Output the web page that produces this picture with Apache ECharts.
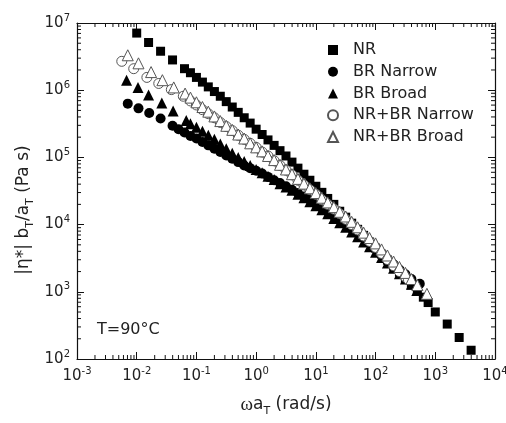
<!DOCTYPE html>
<html><head><meta charset="utf-8">
<script src="https://cdn.jsdelivr.net/npm/echarts@6/dist/echarts.min.js"></script>
<style>html,body{margin:0;padding:0;background:#fff}#c{width:506px;height:423px}</style>
</head><body><div id="c"></div>
<script>
// ---- data: [omega*aT (rad/s), |eta*| bT/aT (Pa s)] ----
const seriesNames = ['NR', 'BR Narrow', 'BR Broad', 'NR+BR Narrow', 'NR+BR Broad'];

const nr = [
 [0.01,7.08e6],[0.0158,5.13e6],[0.0251,3.80e6],[0.0398,2.82e6],[0.0631,2.09e6],[0.0794,1.82e6],
 [0.1,1.55e6],[0.126,1.32e6],[0.158,1.12e6],[0.2,9.55e5],[0.251,8.13e5],[0.316,6.76e5],[0.398,5.62e5],
 [0.501,4.68e5],[0.631,3.89e5],[0.794,3.24e5],[1,2.63e5],[1.26,2.19e5],[1.58,1.82e5],[2.0,1.51e5],
 [2.51,1.26e5],[3.16,1.05e5],[3.98,8.51e4],[5.01,6.92e4],[6.31,5.62e4],[7.94,4.57e4],[10,3.72e4],
 [12.6,3.02e4],[15.8,2.45e4],[20.0,2.00e4],[25.1,1.58e4],[31.6,1.29e4],[39.8,1.05e4],[50.1,8.51e3],
 [63.1,6.92e3],[79.4,5.50e3],[100,4.47e3],[126,3.63e3],[158,2.95e3],[200,2.40e3],[251,1.95e3],
 [316,1.58e3],[398,1.26e3],[501,1.02e3],[631,832],[759,692],[1000,501],[1585,331],[2512,209],[3981,135]
];
const brNarrow = [
 [0.00708,6.31e5],[0.0107,5.37e5],[0.0162,4.57e5],[0.0251,3.80e5],[0.0398,2.95e5],[0.0501,2.63e5],
 [0.0631,2.34e5],[0.0794,2.09e5],[0.1,1.91e5],[0.126,1.70e5],[0.158,1.51e5],[0.2,1.35e5],[0.251,1.20e5],
 [0.316,1.07e5],[0.398,9.55e4],[0.501,8.51e4],[0.631,7.59e4],[0.794,6.92e4],[1,6.31e4],[1.26,5.75e4],
 [1.58,5.13e4],[2.0,4.57e4],[2.51,4.17e4],[3.16,3.72e4],[3.98,3.31e4],[5.01,2.95e4],[6.31,2.63e4],
 [7.94,2.34e4],[10,2.04e4],[12.6,1.78e4],[15.8,1.55e4],[20.0,1.35e4],[25.1,1.17e4],[31.6,1.02e4],
 [39.8,8.71e3],[50.1,7.41e3],[63.1,6.31e3],[79.4,5.37e3],[100,4.47e3],[126,3.72e3],[158,3.09e3],
 [200,2.57e3],[251,2.14e3],[316,1.82e3],[398,1.55e3],[550,1.32e3]
];
const brBroad = [
 [0.00676,1.41e6],[0.0105,1.10e6],[0.0158,8.51e5],[0.0263,6.46e5],[0.0407,4.90e5],[0.0676,3.55e5],
 [0.0794,3.16e5],[0.1,2.82e5],[0.126,2.45e5],[0.158,2.14e5],[0.2,1.86e5],[0.251,1.58e5],[0.316,1.35e5],
 [0.398,1.15e5],[0.501,1.00e5],[0.631,8.71e4],[0.794,7.59e4],[1,6.61e4],[1.26,5.89e4],[1.58,5.25e4],
 [2.0,4.68e4],[2.51,4.07e4],[3.16,3.63e4],[3.98,3.24e4],[5.01,2.82e4],[6.31,2.51e4],[7.94,2.19e4],
 [10,1.91e4],[12.6,1.66e4],[15.8,1.45e4],[20.0,1.23e4],[25.1,1.07e4],[31.6,9.12e3],[39.8,7.76e3],
 [50.1,6.61e3],[63.1,5.50e3],[79.4,4.68e3],[100,3.89e3],[126,3.24e3],[158,2.69e3],[200,2.24e3],
 [251,1.86e3],[316,1.55e3],[398,1.29e3],[490,1.05e3]
];
const nrBrNarrow = [
 [0.00562,2.69e6],[0.00891,2.09e6],[0.0148,1.55e6],[0.0234,1.26e6],[0.038,1.02e6],[0.0603,8.13e5],
 [0.0794,6.92e5],[0.1,6.03e5],[0.126,5.13e5],[0.158,4.47e5],[0.2,3.89e5],[0.251,3.31e5],[0.316,2.88e5],
 [0.398,2.51e5],[0.501,2.14e5],[0.631,1.86e5],[0.794,1.62e5],[1,1.41e5],[1.26,1.20e5],[1.58,1.05e5],
 [2.0,8.91e4],[2.51,7.59e4],[3.16,6.46e4],[3.98,5.50e4],[5.01,4.57e4],[6.31,3.89e4],[7.94,3.31e4],
 [10,2.82e4],[12.6,2.34e4],[15.8,2.00e4],[20.0,1.70e4],[25.1,1.45e4],[31.6,1.20e4],[39.8,1.00e4],
 [50.1,8.32e3],[63.1,6.76e3],[79.4,5.62e3],[100,4.57e3],[126,3.72e3],[158,3.02e3],[200,2.45e3],
 [251,2.00e3],[316,1.66e3],[355,1.51e3]
];
const nrBrBroad = [
 [0.00708,3.31e6],[0.0107,2.51e6],[0.0174,1.86e6],[0.0269,1.41e6],[0.0417,1.10e6],[0.0646,8.91e5],
 [0.0794,7.76e5],[0.1,6.61e5],[0.126,5.62e5],[0.158,4.79e5],[0.2,4.07e5],[0.251,3.47e5],[0.316,2.95e5],
 [0.398,2.57e5],[0.501,2.19e5],[0.631,1.91e5],[0.794,1.62e5],[1,1.41e5],[1.26,1.23e5],[1.58,1.05e5],
 [2.0,9.12e4],[2.51,7.76e4],[3.16,6.61e4],[3.98,5.62e4],[5.01,4.79e4],[6.31,4.07e4],[7.94,3.47e4],
 [10,2.95e4],[12.6,2.51e4],[15.8,2.14e4],[20.0,1.82e4],[25.1,1.55e4],[31.6,1.32e4],[39.8,1.10e4],
 [50.1,9.12e3],[63.1,7.59e3],[79.4,6.31e3],[100,5.25e3],[126,4.27e3],[158,3.47e3],[200,2.82e3],
 [251,2.34e3],[316,1.91e3],[398,1.55e3],[501,1.26e3],[724,933]
];

// ---- axes / tick labels ----
const xMin = 1e-3, xMax = 1e4;
const yMin = 1e2, yMax = 1e7;
const xTickExps = [-3, -2, -1, 0, 1, 2, 3, 4];
const yTickExps = [2, 3, 4, 5, 6, 7];
const minorMultipliers = [2, 3, 4, 5, 6, 7, 8, 9];
const minorX = [], minorY = [];
xTickExps.slice(0, -1).forEach(e => minorMultipliers.forEach(m => minorX.push(m * Math.pow(10, e))));
yTickExps.slice(0, -1).forEach(e => minorMultipliers.forEach(m => minorY.push(m * Math.pow(10, e))));

const FONT = 'DejaVu Sans';
const INK = '#111';
const supRich = {
  b: { fontSize: 15, fontFamily: FONT, color: '#222', lineHeight: 20 },
  s: { fontSize: 10, fontFamily: FONT, color: '#222', lineHeight: 11, verticalAlign: 'top' }
};
function powLabel(v) {
  const e = Math.round(Math.log10(v));
  return '{b|10}{s|' + e + '}';
}
const lineStyle = { color: INK, width: 1.2 };
function axisCommon(pos, showLabel, isX) {
  return {
    type: 'log', logBase: 10, position: pos,
    min: isX ? xMin : yMin, max: isX ? xMax : yMax, interval: 1,
    axisLine: { show: true, onZero: false, lineStyle: lineStyle },
    axisTick: { show: true, inside: true, length: 7, lineStyle: { color: INK, width: 1 } },
    minorTick: { show: false },
    splitLine: { show: false },
    axisLabel: showLabel ? { show: true, margin: 7, formatter: powLabel, rich: supRich } : { show: false }
  };
}

const MINOR_LEN = 4;
function minorXItem(params, api) {
  const v = api.value(0);
  const b = api.coord([v, yMin]);
  const t = api.coord([v, yMax]);
  return { type: 'group', children: [
    { type: 'line', shape: { x1: b[0], y1: b[1], x2: b[0], y2: b[1] - MINOR_LEN }, style: { stroke: INK, lineWidth: 1 } },
    { type: 'line', shape: { x1: t[0], y1: t[1], x2: t[0], y2: t[1] + MINOR_LEN }, style: { stroke: INK, lineWidth: 1 } }
  ]};
}
function minorYItem(params, api) {
  const v = api.value(1);
  const l = api.coord([xMin, v]);
  const r = api.coord([xMax, v]);
  return { type: 'group', children: [
    { type: 'line', shape: { x1: l[0], y1: l[1], x2: l[0] + MINOR_LEN, y2: l[1] }, style: { stroke: INK, lineWidth: 1 } },
    { type: 'line', shape: { x1: r[0], y1: r[1], x2: r[0] - MINOR_LEN, y2: r[1] }, style: { stroke: INK, lineWidth: 1 } }
  ]};
}

const filled = { color: '#000', opacity: 1 };
const open = { color: '#fff', borderColor: '#555', borderWidth: 1, opacity: 1 };

const chart = echarts.init(document.getElementById('c'), null, { renderer: 'canvas' });
chart.setOption({
  animation: false,
  backgroundColor: '#fff',
  grid: { left: 77, right: 11, top: 23, bottom: 64, containLabel: false, outerBoundsMode: 'none' },
  xAxis: [
    Object.assign(axisCommon('bottom', true, true), {
      name: '{w|ω}{a|a}{sub|T}{a| (rad/s)}', nameLocation: 'middle', nameGap: 34,
      nameTextStyle: { rich: {
        w: { fontSize: 19, fontFamily: 'Liberation Serif', color: '#222', lineHeight: 24 },
        a: { fontSize: 17, fontFamily: FONT, color: '#222', lineHeight: 24 },
        sub: { fontSize: 11, fontFamily: FONT, color: '#222', lineHeight: 12, verticalAlign: 'bottom' }
      } }
    }),
    axisCommon('top', false, true)
  ],
  yAxis: [
    axisCommon('left', true, false),
    axisCommon('right', false, false)
  ],
  legend: {
    data: seriesNames,
    orient: 'vertical', left: 322, top: 35,
    itemWidth: 10, itemHeight: 10, itemGap: 1.75, symbolKeepAspect: true,
    textStyle: { fontSize: 16, fontFamily: FONT, color: '#222', lineHeight: 20, padding: [0, 0, 0, 10] }
  },
  graphic: [
    { type: 'text', x: 24, y: 210, rotation: Math.PI / 2,
      style: { text: '{a||η*| b}{s|T}{a|/a}{s|T}{a| (Pa s)}', align: 'center', verticalAlign: 'middle',
        rich: {
          a: { fontSize: 17, fontFamily: FONT, fill: '#222', color: '#222', lineHeight: 24 },
          s: { fontSize: 11, fontFamily: FONT, fill: '#222', color: '#222', lineHeight: 12, verticalAlign: 'bottom' }
        } } },
    { type: 'text', x: 97, y: 330,
      style: { text: 'T=90°C', fontSize: 16, fontFamily: FONT, fill: '#222', verticalAlign: 'middle' } }
  ],
  series: [
    { type: 'custom', name: 'minorX', silent: true, clip: false, z: 1, renderItem: minorXItem,
      data: minorX.map(v => [v, yMin]) },
    { type: 'custom', name: 'minorY', silent: true, clip: false, z: 1, renderItem: minorYItem,
      data: minorY.map(v => [xMin, v]) },
    { type: 'scatter', name: seriesNames[0], symbol: 'rect', symbolSize: 9, symbolKeepAspect: true, itemStyle: filled, data: nr },
    { type: 'scatter', name: seriesNames[1], symbol: 'circle', symbolSize: 10, symbolKeepAspect: true, itemStyle: filled, data: brNarrow },
    { type: 'scatter', name: seriesNames[2], symbol: 'triangle', symbolSize: 11, symbolKeepAspect: true, itemStyle: filled, data: brBroad },
    { type: 'scatter', name: seriesNames[3], symbol: 'circle', symbolSize: 10, symbolKeepAspect: true, itemStyle: open, data: nrBrNarrow },
    { type: 'scatter', name: seriesNames[4], symbol: 'triangle', symbolSize: 11, symbolKeepAspect: true, itemStyle: open, data: nrBrBroad }
  ]
});
</script>
</body></html>
